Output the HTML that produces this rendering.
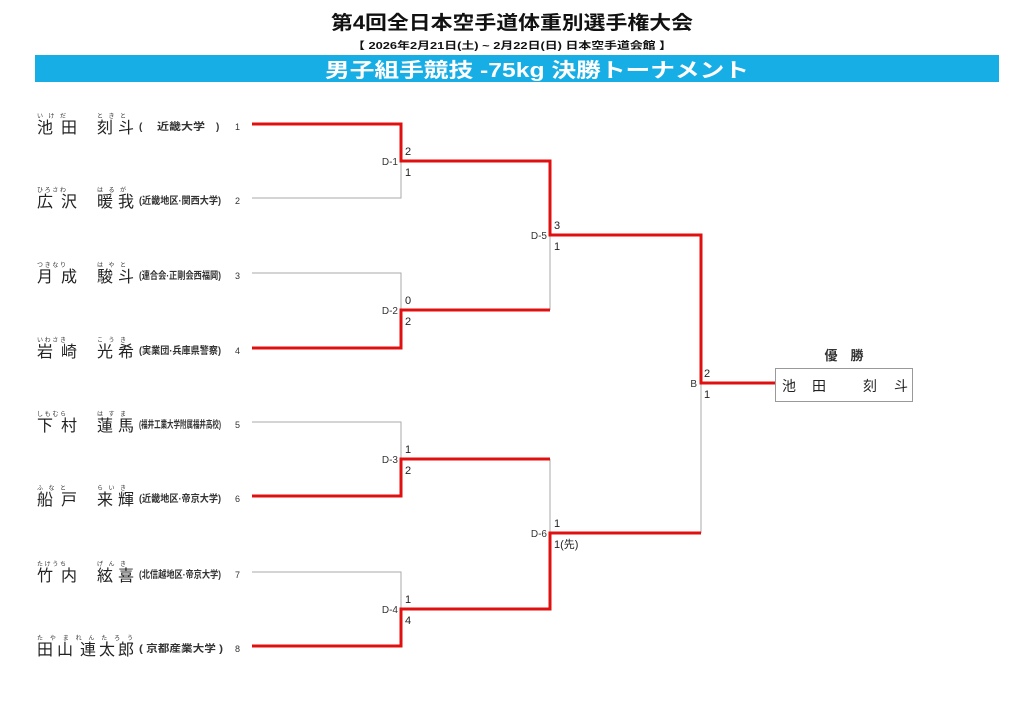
<!DOCTYPE html>
<html><head><meta charset="utf-8"><style>
html,body{margin:0;padding:0;background:#fff;}
svg{display:block;}
text{font-family:"Liberation Sans","Noto Sans CJK JP",sans-serif;}
.nm{font-size:16px;fill:#222;}
.fu{font-size:6px;fill:#333;}
.af{font-size:10px;font-weight:bold;fill:#333;}
.no{font-size:9px;fill:#333;}
.lb{font-size:10px;fill:#333;font-family:"Liberation Serif","Noto Serif CJK SC",serif;}
.sc{font-size:11px;fill:#222;font-family:"Liberation Serif","Noto Serif CJK SC",serif;}
</style></head><body>
<svg width="1024" height="724" viewBox="0 0 1024 724" xmlns="http://www.w3.org/2000/svg">
<rect width="1024" height="724" fill="#fff"/>
<text x="512" y="29" text-anchor="middle" font-size="19" font-weight="bold" fill="#111" textLength="362" lengthAdjust="spacingAndGlyphs">第4回全日本空手道体重別選手権大会</text>
<text x="512" y="49" text-anchor="middle" font-size="10" font-weight="bold" fill="#111" textLength="320" lengthAdjust="spacingAndGlyphs">【 2026年2月21日(土) ~ 2月22日(日)  日本空手道会館 】</text>
<rect x="35" y="55" width="964" height="27" fill="#17aee6"/>
<text x="537" y="77" text-anchor="middle" font-size="20" font-weight="bold" fill="#fff" textLength="424" lengthAdjust="spacingAndGlyphs">男子組手競技 -75kg 決勝トーナメント</text>

<g fill="none" stroke="#aaa" stroke-width="1">
<path d="M252 198H401V161"/>
<path d="M252 273H401V310"/>
<path d="M252 422H401V459"/>
<path d="M252 572H401V609"/>
<path d="M550 310V235"/>
<path d="M550 459V533"/>
<path d="M701 533V383"/>
</g>
<g fill="none" stroke="#e01010" stroke-width="3">
<path d="M252 124H401V161H550V235H701V383H775"/>
<path d="M252 348H401V310H550"/>
<path d="M252 496H401V459H550"/>
<path d="M252 646H401V609H550V533H701"/>
</g>
<rect x="775.5" y="368.5" width="137" height="33" fill="#fff" stroke="#999"/>
<text x="844" y="360" text-anchor="middle" font-size="13" font-weight="bold" fill="#333">優　勝</text>
<text x="782" y="391" font-size="14" fill="#222">池</text><text x="812" y="391" font-size="14" fill="#222">田</text>
<text x="863" y="391" font-size="14" fill="#222">刻</text><text x="894" y="391" font-size="14" fill="#222">斗</text>

<g class="lb">
<text x="398" y="165" text-anchor="end">D-1</text>
<text x="398" y="314" text-anchor="end">D-2</text>
<text x="398" y="463" text-anchor="end">D-3</text>
<text x="398" y="613" text-anchor="end">D-4</text>
<text x="547" y="239" text-anchor="end">D-5</text>
<text x="547" y="537" text-anchor="end">D-6</text>
<text x="697" y="387" text-anchor="end">B</text>
</g>
<g class="sc">
<text x="405" y="155">2</text><text x="405" y="176">1</text>
<text x="405" y="304">0</text><text x="405" y="325">2</text>
<text x="405" y="453">1</text><text x="405" y="474">2</text>
<text x="405" y="603">1</text><text x="405" y="624">4</text>
<text x="554" y="229">3</text><text x="554" y="250">1</text>
<text x="554" y="527">1</text><text x="554" y="548">1(先)</text>
<text x="704" y="377">2</text><text x="704" y="398">1</text>
</g>

<g>
<text class="fu" x="37" y="118" textLength="29" lengthAdjust="spacing">い け だ</text>
<text class="fu" x="97" y="118" textLength="29" lengthAdjust="spacing">と き と</text>
<text class="nm" x="37" y="133">池</text><text class="nm" x="61" y="133">田</text>
<text class="nm" x="97" y="133">刻</text><text class="nm" x="118" y="133">斗</text>
<text class="af" x="139" y="130">(</text>
<text class="af" x="157" y="130" textLength="48" lengthAdjust="spacingAndGlyphs">近畿大学</text>
<text class="af" x="216" y="130">)</text>
<text class="no" x="235" y="130">1</text>

<text class="fu" x="37" y="192" textLength="29" lengthAdjust="spacing">ひ ろ さ わ</text>
<text class="fu" x="97" y="192" textLength="29" lengthAdjust="spacing">は る が</text>
<text class="nm" x="37" y="207">広</text><text class="nm" x="61" y="207">沢</text>
<text class="nm" x="97" y="207">暖</text><text class="nm" x="118" y="207">我</text>
<text class="af" x="139" y="204" textLength="82" lengthAdjust="spacingAndGlyphs">(近畿地区·関西大学)</text>
<text class="no" x="235" y="204">2</text>

<text class="fu" x="37" y="267" textLength="29" lengthAdjust="spacing">つ き な り</text>
<text class="fu" x="97" y="267" textLength="29" lengthAdjust="spacing">は や と</text>
<text class="nm" x="37" y="282">月</text><text class="nm" x="61" y="282">成</text>
<text class="nm" x="97" y="282">駿</text><text class="nm" x="118" y="282">斗</text>
<text class="af" x="139" y="279" textLength="82" lengthAdjust="spacingAndGlyphs">(連合会·正剛会西福岡)</text>
<text class="no" x="235" y="279">3</text>

<text class="fu" x="37" y="342" textLength="29" lengthAdjust="spacing">い わ さ き</text>
<text class="fu" x="97" y="342" textLength="29" lengthAdjust="spacing">こ う き</text>
<text class="nm" x="37" y="357">岩</text><text class="nm" x="61" y="357">崎</text>
<text class="nm" x="97" y="357">光</text><text class="nm" x="118" y="357">希</text>
<text class="af" x="139" y="354" textLength="82" lengthAdjust="spacingAndGlyphs">(実業団·兵庫県警察)</text>
<text class="no" x="235" y="354">4</text>

<text class="fu" x="37" y="416" textLength="29" lengthAdjust="spacing">し も む ら</text>
<text class="fu" x="97" y="416" textLength="29" lengthAdjust="spacing">は す ま</text>
<text class="nm" x="37" y="431">下</text><text class="nm" x="61" y="431">村</text>
<text class="nm" x="97" y="431">蓮</text><text class="nm" x="118" y="431">馬</text>
<text class="af" x="139" y="428" textLength="82" lengthAdjust="spacingAndGlyphs">(福井工業大学附属福井高校)</text>
<text class="no" x="235" y="428">5</text>

<text class="fu" x="37" y="490" textLength="29" lengthAdjust="spacing">ふ な と</text>
<text class="fu" x="97" y="490" textLength="29" lengthAdjust="spacing">ら い き</text>
<text class="nm" x="37" y="505">船</text><text class="nm" x="61" y="505">戸</text>
<text class="nm" x="97" y="505">来</text><text class="nm" x="118" y="505">輝</text>
<text class="af" x="139" y="502" textLength="82" lengthAdjust="spacingAndGlyphs">(近畿地区·帝京大学)</text>
<text class="no" x="235" y="502">6</text>

<text class="fu" x="37" y="566" textLength="29" lengthAdjust="spacing">た け う ち</text>
<text class="fu" x="97" y="566" textLength="29" lengthAdjust="spacing">げ ん き</text>
<text class="nm" x="37" y="581">竹</text><text class="nm" x="61" y="581">内</text>
<text class="nm" x="97" y="581">絃</text><text class="nm" x="118" y="581">喜</text>
<text class="af" x="139" y="578" textLength="82" lengthAdjust="spacingAndGlyphs">(北信越地区·帝京大学)</text>
<text class="no" x="235" y="578">7</text>

<text class="fu" x="37" y="640" textLength="96" lengthAdjust="spacing">た や ま れ ん た ろ う</text>
<text class="nm" x="37" y="655">田</text><text class="nm" x="57" y="655">山</text>
<text class="nm" x="80" y="655">連</text><text class="nm" x="99" y="655">太</text><text class="nm" x="118" y="655">郎</text>
<text class="af" x="139" y="652" textLength="84" lengthAdjust="spacingAndGlyphs">( 京都産業大学 )</text>
<text class="no" x="235" y="652">8</text>
</g>
</svg>
</body></html>
